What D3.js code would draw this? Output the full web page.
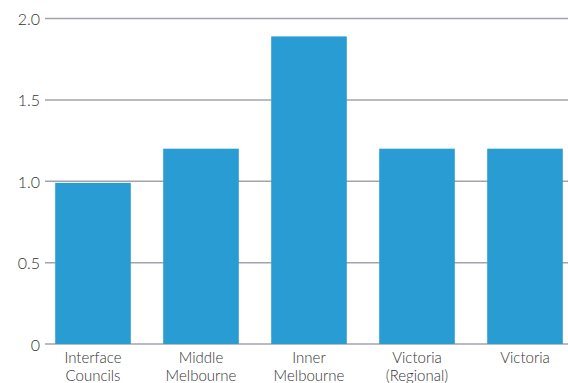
<!DOCTYPE html>
<html>
<head>
<meta charset="utf-8">
<script src="https://cdn.jsdelivr.net/npm/d3@7"></script>
<style>
  html, body { margin: 0; padding: 0; background: #fff; }
  svg { display: block; }
  text { font-family: "Lato", "Open Sans", sans-serif; font-weight: 300; }
</style>
</head>
<body>
<svg id="chart" width="568" height="383"></svg>
<script>
const categories = [
  ["Interface", "Councils"],
  ["Middle", "Melbourne"],
  ["Inner", "Melbourne"],
  ["Victoria", "(Regional)"],
  ["Victoria"]
];
const values = [0.99, 1.2, 1.89, 1.2, 1.2];
const yTicks = [0, 0.5, 1.0, 1.5, 2.0];
const yTickLabels = ["0", "0.5", "1.0", "1.5", "2.0"];

const svg = d3.select("#chart");
const W = 568, H = 383;

const x = d3.scaleBand()
  .domain(categories.map((d, i) => i))
  .range([39, 579])
  .paddingInner(0.3)
  .paddingOuter(0.15);

const y = d3.scaleLinear().domain([0, 2]).range([344, 18.5]);

// gridlines
const grid = svg.append("g");
grid.selectAll("line").data(yTicks).join("line")
  .attr("x1", 45).attr("x2", W)
  .attr("y1", d => y(d)).attr("y2", d => y(d))
  .attr("stroke", "#a3a3ab").attr("stroke-width", 1.5);

// y labels
const yAxis = d3.axisLeft(y).tickValues(yTicks).tickSize(0)
  .tickFormat((d, i) => yTickLabels[i]);
const gy = svg.append("g").attr("transform", "translate(40,0)").call(yAxis);
gy.select(".domain").remove();
gy.selectAll("text").attr("x", 0).attr("dy", "0.38em")
  .attr("fill", "#333").style("font-size", "16px")
  .style("font-family", "Lato, 'Open Sans', sans-serif").style("font-weight", 300);

// bars
svg.append("g").selectAll("rect").data(values).join("rect")
  .attr("x", (d, i) => x(i))
  .attr("width", x.bandwidth())
  .attr("y", d => y(d))
  .attr("height", d => y(0) - y(d))
  .attr("fill", "#2a9cd4");

// x labels (one text per line)
const xl = svg.append("g");
categories.forEach((lines, i) => {
  lines.forEach((ln, j) => {
    xl.append("text")
      .attr("text-anchor", "middle")
      .attr("fill", "#333")
      .style("font-size", "15px")
      .attr("x", x(i) + x.bandwidth() / 2)
      .attr("y", 363 + j * 18)
      .text(ln);
  });
});
</script>
</body>
</html>
